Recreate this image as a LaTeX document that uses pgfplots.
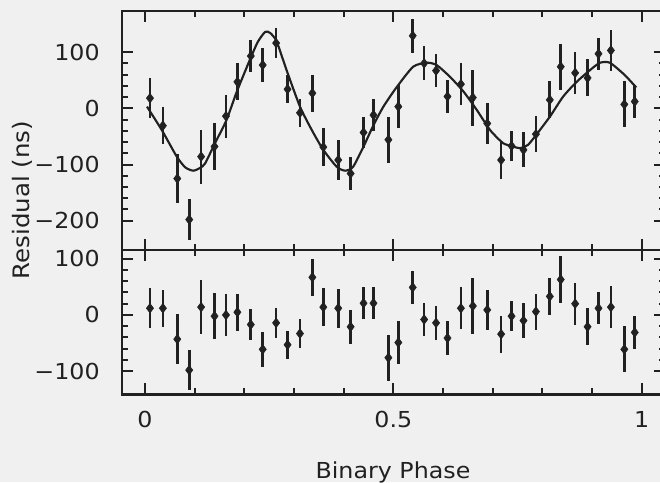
\documentclass[border=0pt]{standalone}
\usepackage{fontspec}
\setmainfont[FakeStretch=1.08]{DejaVu Sans}
\usepackage{pgfplots}
\usepackage{pgfplotstable}
\pgfplotsset{compat=1.18}

\definecolor{ink}{gray}{0.13}
\definecolor{paper}{gray}{0.94}

% timing residuals folded on the binary period
\pgfplotstableread{
phase obs res err
0.010 18 12 36
0.036 -31 12 33
0.065 -125 -43 44
0.089 -198 -98 36
0.113 -86 14 48
0.140 -68 -2 41
0.163 -14 0 38
0.186 47 5 33
0.213 93 -17 28
0.237 77 -61 31
0.264 116 -14 27
0.287 34 -53 25
0.312 -8 -33 25
0.337 27 67 33
0.359 -69 14 34
0.389 -92 12 35
0.414 -116 -21 30
0.440 -43 21 28
0.460 -12 21 28
0.490 -56 -76 41
0.510 3 -49 38
0.539 129 49 30
0.562 80 -8 30
0.586 67 -14 30
0.609 21 -41 30
0.636 43 12 37
0.660 19 16 50
0.689 -27 9 36
0.717 -92 -34 33
0.738 -67 -2 27
0.762 -74 -10 31
0.787 -46 6 32
0.815 15 33 33
0.837 74 63 41
0.866 63 20 37
0.891 54 -21 33
0.913 97 12 28
0.938 103 14 37
0.965 7 -61 41
0.986 12 -31 29
}\timing

% fitted delay model
\pgfplotstableread{
phase model
0.004 3
0.034 -39
0.064 -86
0.081 -105
0.097 -111
0.111 -106
0.121 -98
0.141 -62
0.164 -21
0.185 30
0.211 86
0.227 118
0.242 136
0.252 134
0.265 119
0.285 68
0.312 3
0.336 -39
0.359 -74
0.386 -104
0.403 -111
0.419 -104
0.440 -68
0.460 -30
0.480 3
0.507 38
0.540 74
0.567 81
0.587 77
0.614 56
0.641 30
0.668 -3
0.695 -39
0.721 -62
0.741 -68
0.755 -71
0.771 -65
0.787 -48
0.815 -15
0.842 21
0.869 47
0.896 68
0.916 81
0.936 81
0.966 59
0.989 37
}\orbit

\pgfplotsset{
  resid/.style={
    scale only axis, width=407.25pt,
    xmin=-0.0463, xmax=1.0469,
    xtick={0,0.5,1},
    minor xtick={0.1,0.2,0.3,0.4,0.6,0.7,0.8,0.9},
    minor y tick num=4,
    major tick length=8.5pt, minor tick length=4.5pt,
    tick style={ink, line width=1.5pt},
    axis line style={ink, line width=2.2pt},
    tick label style={font=\fontsize{16.5}{18}\selectfont, text=ink},
    yticklabel style={anchor=east, inner sep=0pt, xshift=-16.5pt},
    xticklabel style={anchor=base, inner sep=0pt, yshift=-24.75pt},
  },
  obsmarks/.style={
    only marks, mark=diamond*, mark size=3.6pt, color=ink,
    error bars/.cd, y dir=both, y explicit, error mark=none,
    error bar style={line width=2pt, ink},
  },
}

\begin{document}
\begin{tikzpicture}
\path[use as bounding box, fill=paper] (0,0) rectangle (495pt,361.5pt);

% upper panel: residuals with the fitted orbit
\begin{axis}[resid,
  at={(91.5pt,353.25pt)}, anchor=north west, height=179.25pt,
  ymin=-252.1, ymax=173.1,
  ytick={-200,-100,0,100}, yticklabels={−200,−100,0,100},
  xticklabels={},
]
\addplot[ink, line width=1.6pt, smooth, tension=0.4] table[x=phase, y=model] {\orbit};
\addplot[obsmarks] table[x=phase, y=obs, y error=err] {\timing};
\end{axis}

% lower panel: residuals after the fit
\begin{axis}[resid,
  at={(91.5pt,174pt)}, anchor=north west, height=108.2pt,
  ymin=-140.9, ymax=115.5,
  ytick={-100,0,100}, yticklabels={−100,0,100},
  xticklabels={0,0.5,1},
]
\addplot[obsmarks] table[x=phase, y=res, y error=err] {\timing};
\end{axis}

\node[anchor=base, text=ink, font=\fontsize{16.5}{18}\selectfont] at (294.75pt,3pt) {Binary Phase};
\node[rotate=90, text=ink, font=\fontsize{17}{18}\selectfont] at (17pt,211.5pt) {Residual (ns)};
\end{tikzpicture}
\end{document}
